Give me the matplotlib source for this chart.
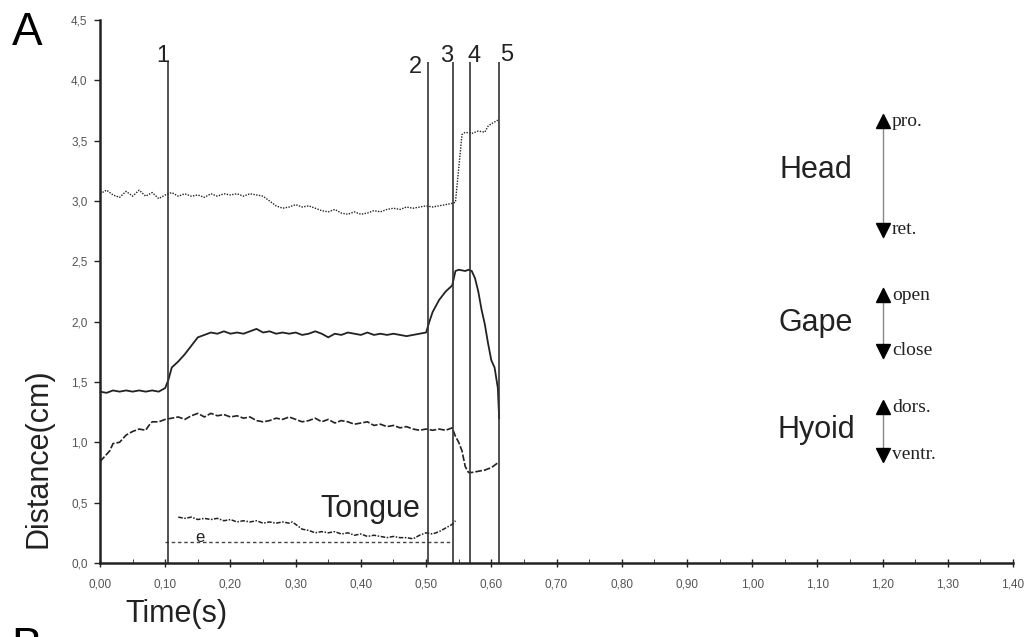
import matplotlib.pyplot as plt
from matplotlib.ticker import MultipleLocator, FuncFormatter

plt.rcParams['font.family'] = ['Liberation Sans', 'DejaVu Sans']

# head (dotted)
head_time = [0.00, 0.01, 0.02, 0.03, 0.04, 0.05, 0.06, 0.07, 0.08, 0.09,
             0.10, 0.11, 0.12, 0.13, 0.14, 0.15, 0.16, 0.17, 0.18, 0.19,
             0.20, 0.21, 0.22, 0.23, 0.24, 0.25, 0.26, 0.27, 0.28, 0.29,
             0.30, 0.31, 0.32, 0.33, 0.34, 0.35, 0.36, 0.37, 0.38, 0.39,
             0.40, 0.41, 0.42, 0.43, 0.44, 0.45, 0.46, 0.47, 0.48, 0.49,
             0.50, 0.51, 0.52, 0.53, 0.54, 0.545, 0.555, 0.56, 0.57, 0.58,
             0.59, 0.595, 0.60, 0.61]
head_dist = [3.06, 3.09, 3.05, 3.03, 3.08, 3.04, 3.09, 3.04, 3.07, 3.02,
             3.05, 3.07, 3.04, 3.06, 3.04, 3.05, 3.03, 3.06, 3.04, 3.06,
             3.05, 3.06, 3.04, 3.06, 3.05, 3.04, 3.00, 2.96, 2.94, 2.95,
             2.97, 2.95, 2.96, 2.94, 2.92, 2.91, 2.93, 2.90, 2.89, 2.91,
             2.89, 2.90, 2.92, 2.91, 2.93, 2.94, 2.93, 2.95, 2.94, 2.95,
             2.96, 2.95, 2.96, 2.97, 2.98, 2.99, 3.55, 3.57, 3.56, 3.58,
             3.57, 3.62, 3.64, 3.67]

# gape (solid)
gape_time = [0.00, 0.01, 0.02, 0.03, 0.04, 0.05, 0.06, 0.07, 0.08, 0.09,
             0.10, 0.105, 0.11, 0.12, 0.13, 0.14, 0.15, 0.16, 0.17, 0.18,
             0.19, 0.20, 0.21, 0.22, 0.23, 0.24, 0.25, 0.26, 0.27, 0.28,
             0.29, 0.30, 0.31, 0.32, 0.33, 0.34, 0.35, 0.36, 0.37, 0.38,
             0.39, 0.40, 0.41, 0.42, 0.43, 0.44, 0.45, 0.46, 0.47, 0.48,
             0.49, 0.50, 0.505, 0.51, 0.52, 0.53, 0.54, 0.545, 0.55, 0.56,
             0.565, 0.57, 0.575, 0.58, 0.585, 0.59, 0.595, 0.60, 0.605, 0.61,
             0.612]
gape_dist = [1.42, 1.41, 1.43, 1.42, 1.43, 1.42, 1.43, 1.42, 1.43, 1.42,
             1.45, 1.52, 1.62, 1.67, 1.73, 1.80, 1.87, 1.89, 1.91, 1.90,
             1.92, 1.90, 1.91, 1.90, 1.92, 1.94, 1.91, 1.92, 1.90, 1.91,
             1.90, 1.91, 1.89, 1.90, 1.92, 1.90, 1.87, 1.90, 1.89, 1.91,
             1.90, 1.89, 1.91, 1.89, 1.90, 1.89, 1.90, 1.89, 1.88, 1.89,
             1.90, 1.91, 2.00, 2.08, 2.18, 2.25, 2.30, 2.42, 2.43, 2.42,
             2.43, 2.42, 2.36, 2.25, 2.10, 1.98, 1.82, 1.68, 1.62, 1.45,
             1.20]

# hyoid (dashed)
hyoid_time = [0.00, 0.01, 0.015, 0.02, 0.03, 0.04, 0.05, 0.06, 0.07, 0.075,
              0.08, 0.09, 0.10, 0.11, 0.12, 0.13, 0.14, 0.15, 0.16, 0.17,
              0.18, 0.19, 0.20, 0.21, 0.22, 0.23, 0.24, 0.25, 0.26, 0.27,
              0.28, 0.29, 0.30, 0.31, 0.32, 0.33, 0.34, 0.35, 0.36, 0.37,
              0.38, 0.39, 0.40, 0.41, 0.42, 0.43, 0.44, 0.45, 0.46, 0.47,
              0.48, 0.49, 0.50, 0.51, 0.52, 0.53, 0.54, 0.545, 0.55, 0.555,
              0.56, 0.565, 0.57, 0.58, 0.59, 0.60, 0.61]
hyoid_dist = [0.84, 0.90, 0.93, 0.99, 1.00, 1.06, 1.09, 1.11, 1.10, 1.14,
              1.17, 1.17, 1.19, 1.20, 1.21, 1.19, 1.22, 1.24, 1.21, 1.24,
              1.22, 1.23, 1.21, 1.22, 1.20, 1.21, 1.18, 1.17, 1.18, 1.20,
              1.19, 1.21, 1.19, 1.17, 1.18, 1.20, 1.17, 1.19, 1.16, 1.18,
              1.17, 1.15, 1.16, 1.17, 1.14, 1.15, 1.13, 1.14, 1.12, 1.13,
              1.11, 1.10, 1.11, 1.10, 1.11, 1.10, 1.12, 1.05, 1.00, 0.93,
              0.80, 0.75, 0.75, 0.76, 0.77, 0.79, 0.83]

# tongue (dash-dot)
tongue_time = [0.12, 0.13, 0.14, 0.15, 0.16, 0.17, 0.18, 0.19, 0.20, 0.21,
               0.22, 0.23, 0.24, 0.25, 0.26, 0.27, 0.28, 0.29, 0.295, 0.305,
               0.31, 0.32, 0.33, 0.34, 0.35, 0.36, 0.37, 0.38, 0.39, 0.40,
               0.41, 0.42, 0.43, 0.44, 0.45, 0.46, 0.47, 0.48, 0.49, 0.50,
               0.51, 0.52, 0.53, 0.54, 0.545]
tongue_dist = [0.38, 0.37, 0.38, 0.36, 0.37, 0.36, 0.37, 0.35, 0.36, 0.34,
               0.35, 0.34, 0.35, 0.33, 0.34, 0.33, 0.34, 0.33, 0.34, 0.30,
               0.28, 0.27, 0.25, 0.26, 0.25, 0.26, 0.24, 0.25, 0.23, 0.24,
               0.22, 0.23, 0.22, 0.21, 0.22, 0.21, 0.21, 0.20, 0.23, 0.25,
               0.24, 0.26, 0.29, 0.32, 0.35]

# e reference level
e_time = [0.10, 0.54]
e_dist = [0.175, 0.175]

event_times = [0.104, 0.503, 0.541, 0.568, 0.612]
event_labels = ['1', '2', '3', '4', '5']

ink = '#222222'

fig = plt.figure(figsize=(10.31, 6.37), dpi=100)
ax = fig.add_axes([0.097, 0.1162, 0.8856, 0.8524])

ax.plot(head_time, head_dist, color=ink, lw=1.0, ls=(0, (1, 1)))
ax.plot(gape_time, gape_dist, color=ink, lw=1.3)
ax.plot(hyoid_time, hyoid_dist, color=ink, lw=1.2, ls=(0, (4, 1.2)))
ax.plot(tongue_time, tongue_dist, color=ink, lw=1.1, ls=(0, (3, 1, 1, 1)))
ax.plot(e_time, e_dist, color='#444444', lw=1.0, ls=(0, (2.5, 2)))
ax.text(0.153, 0.215, 'e', fontsize=12, ha='center', va='center', color=ink)
ax.text(0.414, 0.45, 'Tongue', fontsize=22, ha='center', va='center', color=ink)

label_y = [4.11, 4.02, 4.11, 4.11, 4.12]
label_dx = [-0.008, -0.02, -0.009, 0.006, 0.011]
for t, lab, ly, dx in zip(event_times, event_labels, label_y, label_dx):
    ax.vlines(t, 0, 4.15, color='#333333', lw=1.2)
    ax.text(t + dx, ly, lab, fontsize=17, ha='center', va='bottom', color=ink)

# direction keys on the right
keys = [('Head', 3.26, 3.66, 2.76, 'pro.', 'ret.', 3.71, 2.70),
        ('Gape', 1.99, 2.22, 1.76, 'open', 'close', 2.28, 1.70),
        ('Hyoid', 1.10, 1.29, 0.895, 'dors.', 'ventr.', 1.335, 0.85)]
for name, ny, up_y, dn_y, up_lab, dn_lab, top, bot in keys:
    ax.text(1.098, ny, name, fontsize=22, ha='center', va='center', color=ink)
    ax.plot([1.20, 1.20], [top, bot], color='#888888', lw=1.0)
    ax.plot(1.20, up_y, marker='^', color='black', ms=10, ls='none')
    ax.plot(1.20, dn_y, marker='v', color='black', ms=10, ls='none')
    ax.text(1.214, up_y, up_lab, fontsize=14, family='Liberation Serif',
            ha='left', va='center', color=ink)
    ax.text(1.214, dn_y, dn_lab, fontsize=14, family='Liberation Serif',
            ha='left', va='center', color=ink)

ax.set_xlim(0, 1.40)
ax.set_ylim(0, 4.5)
ax.xaxis.set_major_locator(MultipleLocator(0.1))
ax.xaxis.set_minor_locator(MultipleLocator(0.05))
ax.yaxis.set_major_locator(MultipleLocator(0.5))
ax.xaxis.set_major_formatter(FuncFormatter(lambda v, p: '{:.2f}'.format(v).replace('.', ',')))
ax.yaxis.set_major_formatter(FuncFormatter(lambda v, p: '{:.1f}'.format(v).replace('.', ',')))
ax.tick_params(axis='both', which='major', labelsize=8.5, labelcolor='#555555',
               color=ink, width=1.0)
ax.tick_params(axis='x', which='major', direction='inout', length=6, pad=8)
ax.tick_params(axis='x', which='minor', direction='in', length=3, color=ink)
ax.tick_params(axis='y', which='major', direction='out', length=4, pad=5)
for side in ['top', 'right']:
    ax.spines[side].set_visible(False)
for side in ['left', 'bottom']:
    ax.spines[side].set_linewidth(1.8)
    ax.spines[side].set_color(ink)

fig.text(0.037, 0.281, 'Distance(cm)', fontsize=22, rotation=90,
         ha='center', va='center', color=ink)
fig.text(0.171, 0.036, 'Time(s)', fontsize=22, ha='center', va='center', color=ink)
fig.text(0.026, 0.948, 'A', fontsize=33, ha='center', va='center', color='black')
# panel B label, cut off by the lower edge as in the source figure
fig.text(0.026, -0.018, 'B', fontsize=33, ha='center', va='center', color='black')

fig.savefig('out.png', dpi=100)
